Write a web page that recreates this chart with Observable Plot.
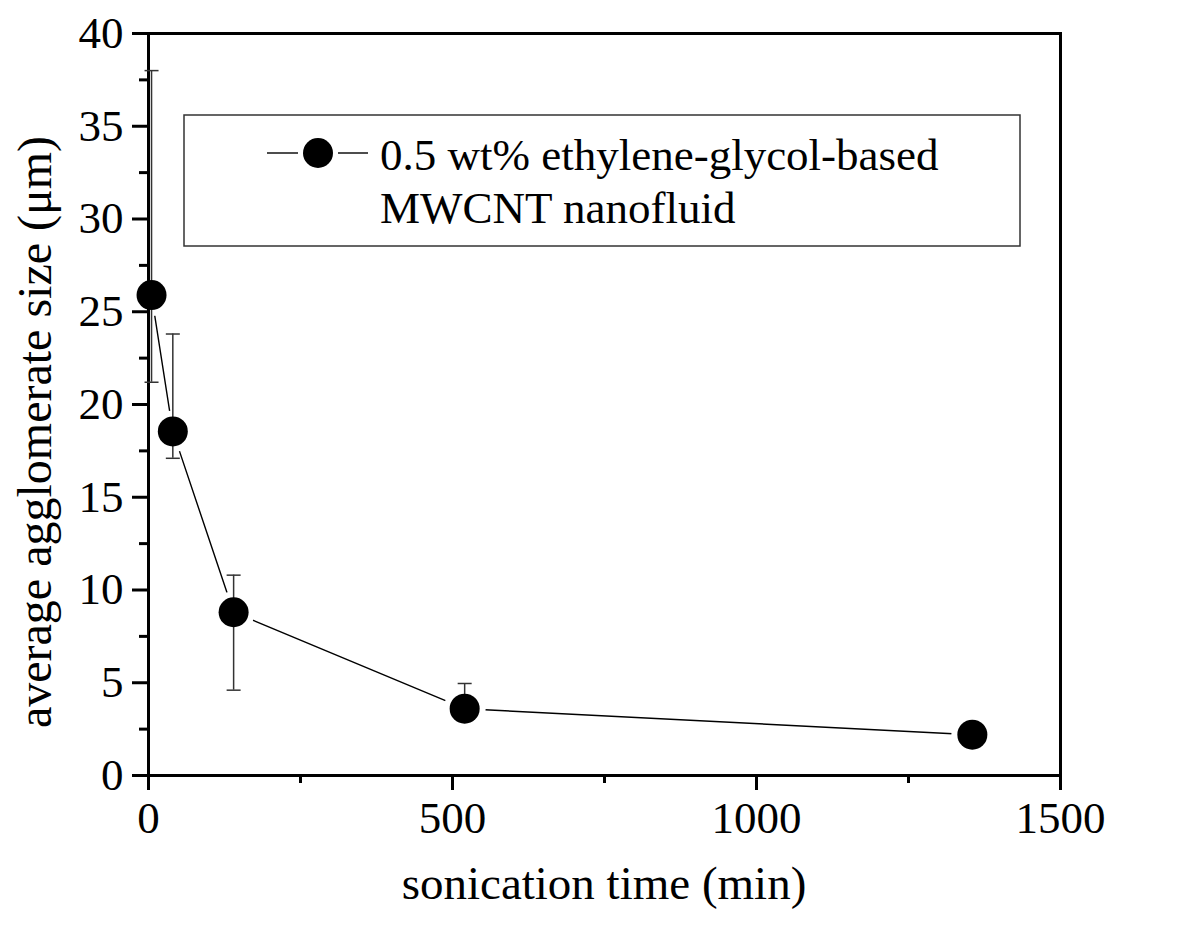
<!DOCTYPE html>
<html><head><meta charset="utf-8">
<script src="https://cdn.jsdelivr.net/npm/d3@7"></script>
<script src="https://cdn.jsdelivr.net/npm/@observablehq/plot@0.6"></script>
<style>body{margin:0;background:#fff} svg{display:block}</style>
</head><body><div id="chart"></div>
<script>
// Data
const time = [5, 40, 140, 520, 1355];          // sonication time (min)
const size = [25.9, 18.55, 8.8, 3.6, 2.2];      // average agglomerate size (µm)
const errLow = [21.2, 17.1, 4.6, 3.6, 2.2];
const errHigh = [38.0, 23.8, 10.8, 4.96, 2.2];
const xMajor = [0, 500, 1000, 1500];
const xMinor = [250, 750, 1250];
const yMajor = [0, 5, 10, 15, 20, 25, 30, 35, 40];
const yMinor = [2.5, 7.5, 12.5, 17.5, 22.5, 27.5, 32.5, 37.5];
const legendLines = ["0.5 wt% ethylene-glycol-based", "MWCNT nanofluid"];
const xTitle = "sonication time (min)";
const yTitle = "average agglomerate size (\u03bcm)";

const rows = time.map((t, i) => ({t, s: size[i], lo: errLow[i], hi: errHigh[i]}));
const bars = rows.filter(d => d.hi > d.lo);

const capSymbol = {draw(ctx) { ctx.moveTo(-7, 0); ctx.lineTo(7, 0); }};
const font = "'Liberation Serif', 'Times New Roman', serif";

const chart = Plot.plot({
  width: 1200, height: 925,
  marginLeft: 148, marginRight: 140, marginTop: 33, marginBottom: 150,
  x: {domain: [0, 1500]},
  y: {domain: [0, 40]},
  style: {fontFamily: font, background: "#fff", color: "#000"},
  marks: [
    Plot.line(rows, {x: "t", y: "s", stroke: "#000", strokeWidth: 1.4}),
    Plot.dot(rows, {x: "t", y: "s", r: 21, fill: "#fff", stroke: "none"}),
    Plot.frame({stroke: "#000", strokeWidth: 3}),
    Plot.axisX({ticks: xMajor, tickSize: 15, tickPadding: 11, strokeWidth: 3, fontSize: 45, label: null, tickFormat: d => String(d)}),
    Plot.axisX({ticks: xMinor, tickSize: 8, strokeWidth: 3, text: null, label: null}),
    Plot.axisY({ticks: yMajor, tickSize: 16, tickPadding: 9, strokeWidth: 3, fontSize: 45, label: null, tickFormat: d => String(d)}),
    Plot.axisY({ticks: yMinor, tickSize: 9, strokeWidth: 3, text: null, label: null}),
    Plot.ruleX(bars, {x: "t", y1: "lo", y2: "hi", stroke: "#333", strokeWidth: 1.5}),
    Plot.dot(bars.filter(d => d.lo < d.s), {x: "t", y: "lo", symbol: capSymbol, stroke: "#333", strokeWidth: 1.5}),
    Plot.dot(bars, {x: "t", y: "hi", symbol: capSymbol, stroke: "#333", strokeWidth: 1.5}),
    Plot.dot(rows, {x: "t", y: "s", r: 15, fill: "#000", stroke: "none"})
  ]
});
document.getElementById("chart").appendChild(chart);

const svg = d3.select(chart);
// Axis titles
svg.append("text").attr("x", 604).attr("y", 899).attr("text-anchor", "middle")
  .attr("font-family", font).attr("font-size", 47).attr("fill", "#000").text(xTitle);
svg.append("text").attr("transform", "translate(51,432) rotate(-90)").attr("text-anchor", "middle")
  .attr("font-family", font).attr("font-size", 48).attr("fill", "#000").text(yTitle);

// Legend
const lg = svg.append("g");
lg.append("rect").attr("x", 184).attr("y", 115).attr("width", 836).attr("height", 131)
  .attr("fill", "#fff").attr("stroke", "#333").attr("stroke-width", 1.5);
lg.append("line").attr("x1", 267).attr("x2", 298).attr("y1", 153).attr("y2", 153).attr("stroke", "#000").attr("stroke-width", 1.4);
lg.append("line").attr("x1", 338).attr("x2", 368).attr("y1", 153).attr("y2", 153).attr("stroke", "#000").attr("stroke-width", 1.4);
lg.append("circle").attr("cx", 318).attr("cy", 153).attr("r", 15).attr("fill", "#000");
legendLines.forEach((s, i) => {
  lg.append("text").attr("x", 380).attr("y", 170 + i * 53).attr("text-anchor", "start")
    .attr("font-family", font).attr("font-size", 45).attr("fill", "#000").text(s);
});
</script></body></html>
